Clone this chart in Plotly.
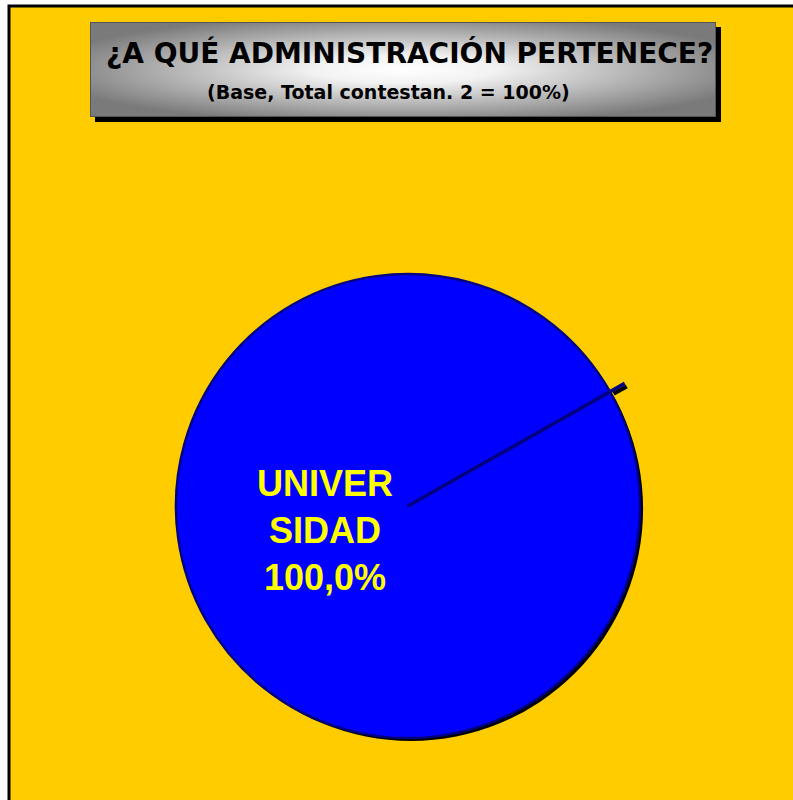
import base64
import math
import plotly.graph_objects as go

# ---- data ----
categories = ["UNIVERSIDAD", "OTRA"]
values = [100.0, 0.0]
label_lines = ["UNIVER", "SIDAD", "100,0%"]
title_text = "¿A QUÉ ADMINISTRACIÓN PERTENECE?"
subtitle_text = "(Base, Total contestan. 2 = 100%)"

W, H = 793, 800
YELLOW = "#FFCC00"
BLUE = "#0000FF"
NAVY = "#000080"

# pie geometry (pixels)
cx, cy, r = 408, 506, 232
start_deg = 29.5  # angle of slice boundary, degrees above horizontal (ccw)


def px_x(x):
    return x / W


def px_y(y):
    return 1 - y / H


def dom(cx_, cy_, r_):
    return dict(x=[px_x(cx_ - r_), px_x(cx_ + r_)], y=[px_y(cy_ + r_), px_y(cy_ - r_)])


fig = go.Figure()
# shadow pie
fig.add_trace(go.Pie(labels=categories, values=values, domain=dom(cx + 3, cy + 3, r),
                     marker=dict(colors=["#000000", "#000000"], line=dict(width=0)),
                     textinfo="none", hoverinfo="skip", showlegend=False, sort=False))
# main pie
fig.add_trace(go.Pie(labels=categories, values=values, domain=dom(cx, cy, r),
                     marker=dict(colors=[BLUE, "#000000"], line=dict(color=NAVY, width=2.5)),
                     textinfo="none", showlegend=False, sort=False,
                     rotation=90 - start_deg, direction="clockwise"))

shapes = []
# page background with black top/left border
shapes.append(dict(type="rect", xref="paper", yref="paper", x0=px_x(9), x1=1.02, y0=-0.02, y1=px_y(6),
                   fillcolor=YELLOW, line=dict(color="black", width=3), layer="below"))
# title box shadow
bx0, by0, bx1, by1 = 90, 22, 716, 117
shapes.append(dict(type="rect", xref="paper", yref="paper", x0=px_x(bx0 + 5), x1=px_x(bx1 + 5),
                   y0=px_y(by1 + 5), y1=px_y(by0 + 5), fillcolor="black", line=dict(width=0),
                   layer="below"))
# slice boundary line (with small protruding tick and its shadow)
a = math.radians(start_deg)
ca, sa = math.cos(a), math.sin(a)
ex, ey = cx + (r + 17) * ca, cy - (r + 17) * sa
rx, ry = cx + (r + 2) * ca, cy - (r + 2) * sa
shapes.append(dict(type="line", xref="paper", yref="paper", x0=px_x(rx + 2), y0=px_y(ry + 3),
                   x1=px_x(ex + 2), y1=px_y(ey + 3), line=dict(color="black", width=4)))
shapes.append(dict(type="line", xref="paper", yref="paper", x0=px_x(cx), y0=px_y(cy),
                   x1=px_x(ex), y1=px_y(ey), line=dict(color=NAVY, width=3.5)))

svg = (
    '<svg xmlns="http://www.w3.org/2000/svg" width="626" height="95" viewBox="0 0 626 95" preserveAspectRatio="none">'
    '<defs><radialGradient id="g" cx="50%" cy="50%" r="58%">'
    '<stop offset="0%" stop-color="#FFFFFF"/><stop offset="25%" stop-color="#F2F2F2"/>'
    '<stop offset="100%" stop-color="#7A7A7A"/>'
    '</radialGradient></defs>'
    '<rect x="0" y="0" width="626" height="95" fill="url(#g)" stroke="#555555" stroke-width="2"/></svg>'
)
src = "data:image/svg+xml;base64," + base64.b64encode(svg.encode()).decode()

annotations = [
    dict(text="<b>" + title_text + "</b>", x=px_x(409), y=px_y(53), xref="paper", yref="paper",
         showarrow=False, xanchor="center", yanchor="middle",
         font=dict(family="DejaVu Sans", size=28, color="black")),
    dict(text="<b>" + subtitle_text + "</b>", x=px_x(388), y=px_y(92), xref="paper", yref="paper",
         showarrow=False, xanchor="center", yanchor="middle",
         font=dict(family="DejaVu Sans", size=19, color="black")),
    dict(text="<b>" + "<br>".join(label_lines) + "</b>", x=px_x(325), y=px_y(530), xref="paper", yref="paper",
         showarrow=False, xanchor="center", yanchor="middle", align="center",
         font=dict(family="Liberation Sans, Arial", size=36, color="#FFFF00")),
]

fig.update_layout(
    width=W, height=H, margin=dict(l=0, r=0, t=0, b=0),
    paper_bgcolor="white", plot_bgcolor="white",
    shapes=shapes, annotations=annotations,
    images=[dict(source=src, xref="paper", yref="paper", x=px_x(bx0), y=px_y(by0),
                 sizex=(bx1 - bx0) / W, sizey=(by1 - by0) / H, xanchor="left", yanchor="top",
                 sizing="stretch", layer="above")],
)
fig.write_html("out.html", config={"displayModeBar": False},
               post_script="document.body.style.margin='0px';")
